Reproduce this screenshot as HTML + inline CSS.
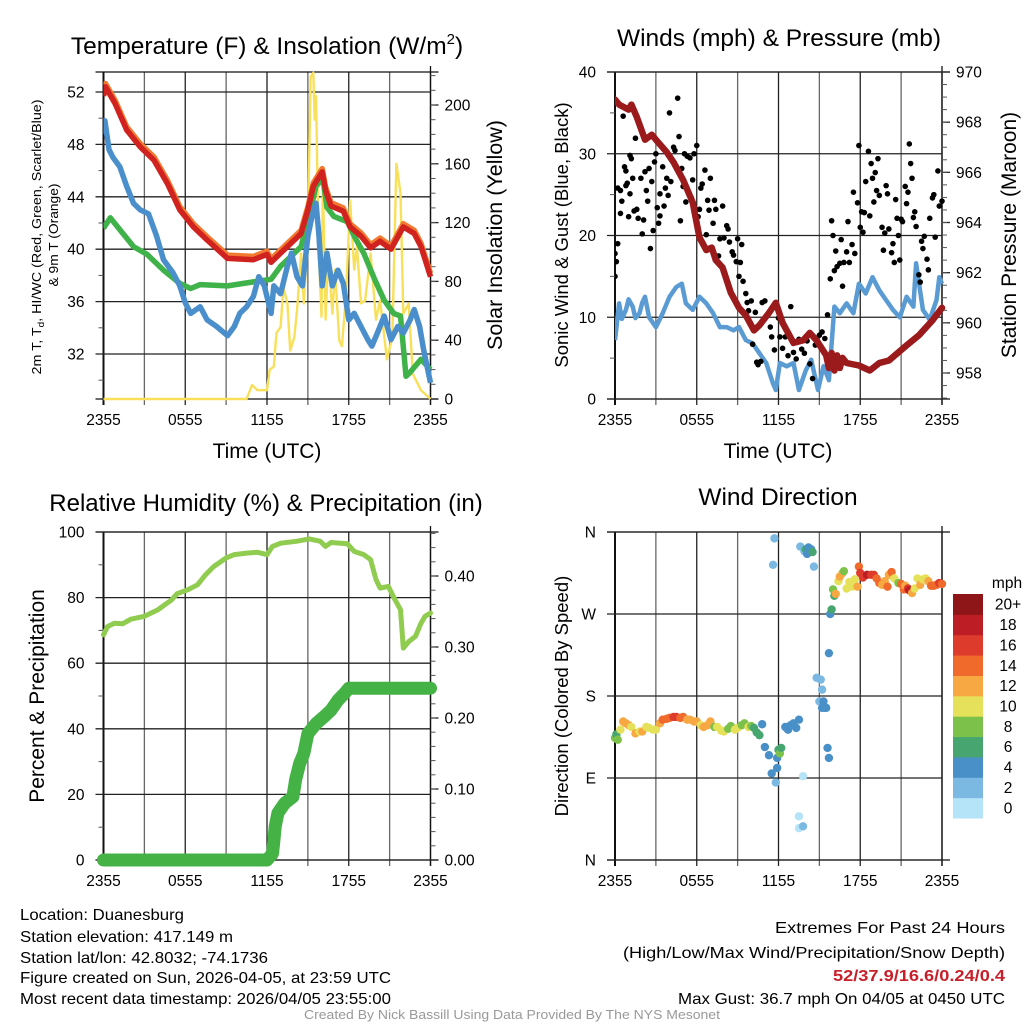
<!DOCTYPE html>
<html><head><meta charset="utf-8"><style>
html,body{margin:0;padding:0;background:#fff;}
svg{display:block;font-family:"Liberation Sans",sans-serif;}
</style></head><body>
<svg id="chart" width="1024" height="1024" viewBox="0 0 1024 1024" xmlns="http://www.w3.org/2000/svg">
<rect width="1024" height="1024" fill="#fff"/>
<g id="g1"></g>
<g id="g2"></g>
<g id="g3"></g>
<g id="g4"></g>
<g id="gt" font-size="16">
<text x="20" y="920" textLength="164" lengthAdjust="spacingAndGlyphs">Location: Duanesburg</text>
<text x="20" y="942" textLength="213" lengthAdjust="spacingAndGlyphs">Station elevation: 417.149 m</text>
<text x="20" y="963" textLength="248" lengthAdjust="spacingAndGlyphs">Station lat/lon: 42.8032; -74.1736</text>
<text x="20" y="983" textLength="371" lengthAdjust="spacingAndGlyphs">Figure created on Sun, 2026-04-05, at 23:59 UTC</text>
<text x="20" y="1004" textLength="371" lengthAdjust="spacingAndGlyphs">Most recent data timestamp: 2026/04/05 23:55:00</text>
<text x="1005" y="933" text-anchor="end" textLength="230" lengthAdjust="spacingAndGlyphs">Extremes For Past 24 Hours</text>
<text x="1005" y="958" text-anchor="end" textLength="382" lengthAdjust="spacingAndGlyphs">(High/Low/Max Wind/Precipitation/Snow Depth)</text>
<text x="1005" y="981" font-weight="bold" fill="#c8202a" text-anchor="end" textLength="172" lengthAdjust="spacingAndGlyphs">52/37.9/16.6/0.24/0.4</text>
<text x="1005" y="1004" text-anchor="end" textLength="327" lengthAdjust="spacingAndGlyphs">Max Gust: 36.7 mph On 04/05 at 0450 UTC</text>
<text x="304" y="1019" font-size="12.5" fill="#999" textLength="416" lengthAdjust="spacingAndGlyphs">Created By Nick Bassill Using Data Provided By The NYS Mesonet</text>
</g>
</svg>
<script>
// ---------- data ----------
const timeLabels = ["2355","0555","1155","1755","2355"];
const redH = [0,0.15,0.86,1.7,2.7,3.7,4.7,5.6,6.6,7.6,9.1,11,12,12.3,13.5,14.5,15,15.4,16.05,16.3,16.7,17.6,18.1,18.9,19.6,20.3,21.1,22,22.8,23.3,24];
const redT = [51.7,52.4,51.1,49.1,47.8,46.8,45,43,41.7,40.7,39.3,39.2,39.6,39,40.2,41.2,43,44.8,45.9,44.5,43.3,42.9,41.7,41,40.1,40.6,40,41.7,41.2,40.2,37.9];
const greenH = [0,0.5,1.2,2.2,3.2,4.4,5.6,6.4,7.1,9.1,11,12.3,13,13.7,14.5,15,15.6,16.1,16.4,16.9,17.9,18.4,19.1,19.9,20.6,21.3,21.8,22.2,22.5,23.3,24];
const greenT = [41.6,42.4,41.5,40.2,39.6,38.4,37.4,37,37.3,37.2,37.5,37.7,38.7,39.4,40.2,42.2,44.8,45.4,43.2,42.5,42.1,41,39.7,37.7,36.1,35.1,34.9,30.3,30.6,31.6,30.8];
const blueH = [0,0.1,0.4,0.7,1.2,1.7,2.2,2.7,3.3,3.9,4.4,5.1,5.6,6,6.4,7.1,7.6,8.3,9.1,9.6,10,10.5,11,11.4,11.8,12.3,12.5,13,13.5,13.8,14.2,14.6,15,15.3,15.6,15.8,16.05,16.4,16.8,17.2,17.6,18,18.4,18.9,19.4,19.7,20.1,20.6,21.1,21.6,22,22.5,22.8,23.2,23.5,24];
const blueT = [48.8,49.8,47.6,47,46.3,44.8,43.5,43,42.7,41,39.2,38.2,37.2,35.9,35.1,35.6,34.6,34.1,33.4,34.1,35.1,35.6,36.4,37.9,37.2,35.1,37.2,36.6,38.7,39.7,37.9,37.2,41,42.5,43.5,41.2,37.2,39.7,37.2,38.4,37.4,34.6,35.1,34.1,33.1,32.6,33.6,34.9,33.1,34.1,33.6,34.6,35.4,34.1,32.3,29.8];
const solarH = [0,10.5,10.9,11.3,12,12.2,12.5,12.7,13,13.2,13.5,13.7,14,14.2,14.5,14.7,15,15.2,15.4,15.5,15.6,15.8,16,16.1,16.3,16.5,16.8,17,17.3,17.5,17.8,18.1,18.4,18.6,18.9,19.2,19.6,20,20.3,20.8,21.2,21.5,21.8,22,22.4,22.7,23.3,24];
const solarW = [0,0,9.5,6,6,20,22,45,49,76,65,33,42,60,99,65,113,219,222,190,206,99,56,149,54,99,58,88,40,36,70,135,88,104,65,67,99,54,67,27,42,160,140,58,65,17,6,0];
const presH = [0,0.3,1,1.2,1.6,2.2,2.7,3,3.8,4.3,5,5.7,6.2,6.7,7.1,7.4,7.9,8.5,9.1,9.6,10.2,10.6,11.3,11.8,12.3,13.1,13.8,14.3,14.8,15.5,15.7,15.9,16.1,16.3,16.5,16.7,17,17.9,18.7,19.4,20.1,21.4,22.3,23.3,24];
const presMb = [968.9,968.7,968.5,968.7,968.2,967.3,967.5,967.3,966.8,966.4,965.7,964.8,963.4,962.9,963,962.5,962.2,961.2,960.6,960.3,959.7,959.9,960.4,960.8,960,959.2,959.3,959.6,959.3,958.7,958.2,958.8,958.1,958.7,958.2,958.6,958.4,958.3,958.1,958.4,958.5,959.1,959.5,960.1,960.6];
const windH = [0,0.3,0.5,0.8,1,1.3,1.5,1.8,2,2.2,2.5,3,3.5,4,4.5,4.9,5.2,5.7,6.2,6.7,7.2,7.7,8.2,8.7,9.1,9.6,10.1,10.6,11.1,11.6,11.8,12.1,12.6,13.1,13.5,14,14.4,14.9,15.3,15.7,16.1,16.5,17,17.5,17.9,18.4,18.9,19.4,19.9,20.4,20.9,21.4,21.9,22.1,22.6,23.1,23.6,23.8,24];
const windMph = [7.2,11.7,9.8,10.9,12.2,11.3,9.9,10.5,11.8,12.5,10,8.8,10.5,12.5,13.7,14.1,11.7,10.9,12.5,11.7,10.5,8.8,8.8,8.4,8.8,7.2,6.8,5.6,4.4,1.9,1.1,4.4,4,4.4,1.1,3.5,4.8,1.1,4,2.3,11.3,10.5,11.7,10.5,14.1,12.9,14.9,13.3,12.1,10.9,10,12.5,11.3,16.6,10.9,9.7,12.1,14.9,14.1];
const gustH = [0,0,0.1,0.2,0.2,0.4,0.4,0.5,0.6,0.7,0.8,0.8,0.9,1,1.1,1.1,1.2,1.3,1.4,1.5,1.6,1.7,1.9,2,2.1,2.2,2.3,2.4,2.5,2.6,2.7,2.8,2.9,3,3.1,3.2,3.3,3.3,3.5,3.6,3.7,3.8,3.9,4,4.1,4.3,4.4,4.6,4.7,4.8,4.9,5,5.1,5.2,5.3,5.5,5.6,5.7,5.8,6,6.1,6.2,6.3,6.4,6.6,6.7,6.8,6.9,7,7.2,7.3,7.4,7.6,7.7,7.9,8,8.2,8.3,8.4,8.6,8.7,8.9,9,9.1,9.2,9.3,9.4,9.6,9.7,9.8,10,10.1,10.3,10.4,10.5,10.7,10.8,11,11.2,11.4,11.5,11.7,11.8,12,12.1,12.3,12.5,12.7,12.9,13.1,13.3,13.5,13.7,13.9,14.1,14.3,14.5,14.7,15,15.2,15.4,15.6,15.8,15.9,16,16.1,16.2,16.3,16.5,16.6,16.7,16.8,17,17.1,17.2,17.4,17.5,17.6,17.8,17.9,18,18.1,18.2,18.3,18.4,18.6,18.7,18.8,18.9,19,19.1,19.2,19.3,19.4,19.6,19.7,19.8,19.9,20,20.1,20.3,20.4,20.5,20.6,20.7,20.8,20.9,21,21.1,21.3,21.4,21.5,21.6,21.7,21.8,21.9,22,22.1,22.3,22.4,22.5,22.6,22.7,22.9,23,23.1,23.3,23.4,23.5,23.7,23.8,24];
const gustMph = [17.8,15,16.8,19,25.8,25.5,22.7,24.2,34.6,28.4,27.9,26.1,26.4,22.3,29.8,25.1,29.4,27,23,31.9,23.2,22.1,27,20.2,21.9,27.8,25.5,24.2,28.2,18.4,26.6,20.6,29,30,23.4,21.5,22.4,25.1,28.4,23.6,25.8,27,24.9,35,26.6,30.8,30.4,36.8,32.1,21.8,28.2,26,30,24.1,29.7,29.5,24.6,26.8,30,31,22.3,23.2,25.8,26.3,28,20.1,24.3,23.1,27,21.5,24.3,23.2,17.5,19.6,23.6,19.7,21.2,20.8,19.2,18,17.6,16.8,19.6,15,16.7,18.9,14.4,12.9,11.8,10.8,12,6.7,10.6,4.5,4.2,4.6,11.8,12,10.3,8.8,7.6,6,11.2,9.9,7.6,6.2,7.6,5.3,11.3,5.7,4.9,7.3,6.1,5.6,7.1,4.3,2.5,6.6,7.8,8.2,7.4,10.3,14.7,21.8,20,15.7,18.1,16.2,16.6,19.5,13.8,16.7,18,21.7,16.7,18.9,25.3,17.8,24,31,21,22.9,20.4,22.8,26.6,30.3,22.4,28.8,27,24.1,27.7,25.5,29.4,24.9,21,18.2,20.3,26.1,25.1,20.8,17.9,19,16.7,24.4,22.1,20,17,22,21.7,26,23.9,25.3,31.2,28.8,27,22.2,22.9,21.1,15.2,14.3,19.3,18.4,19.9,17.1,15.8,22.1,24.6,25,19.8,27.9,23.6,24.2];
const rhH = [0,0.3,0.8,1.4,2,3,4,5,5.4,6.2,6.9,7.5,8.1,9,9.6,10.6,11.3,12,12.4,13,14.2,15.1,15.9,16.3,16.7,17.9,18.4,19.1,19.6,20,20.3,20.9,21.4,21.8,22,22.4,22.9,23.3,23.6,24];
const rhPct = [68.7,71.2,72.2,72,73.4,74.3,76.3,79.3,81.2,82.4,83.9,87,89.5,92.1,93.1,93.6,93.8,93.1,95.6,96.6,97.2,97.9,97.2,95.6,96.8,96.4,94.1,93.1,91.6,85.5,82.9,83.4,79.3,76.3,64.6,66.6,68.2,72.2,74.3,75.3];
const pcpH = [0,12,12.4,12.5,12.6,12.8,13.3,13.9,14.1,14.4,14.7,15,15.6,16.2,16.7,17.2,17.7,18,24];
const pcpIn = [0,0,0.009,0.026,0.047,0.066,0.08,0.089,0.113,0.136,0.15,0.178,0.192,0.202,0.211,0.225,0.235,0.242,0.242];
const dirH = [
 0,0.1,0.2,0.4,0.6,0.8,1,1.2,1.5,1.8,
 2,2.3,2.5,2.8,3,3.3,3.5,3.8,4,4.3,
 4.5,4.8,5,5.3,5.5,5.8,6,6.3,6.5,6.8,
 7,7.3,7.5,7.8,8,8.3,8.5,8.8,9,9.3,
 9.5,9.8,10,10.2,10.4,10.6,10.8,11,11.3,11.5,
 11.6,11.7,11.8,11.9,11.9,12,12.1,12.2,12.5,12.7,
 12.9,13.1,13.3,13.5,13.5,13.5,13.6,13.8,13.8,13.9,
 14,14.1,14.2,14.3,14.4,14.5,14.6,14.8,15,15.1,
 15.2,15.2,15.3,15.4,15.5,15.6,15.7,15.7,15.8,15.9,
 16,16.1,16.2,16.4,16.5,16.7,16.8,17,17.2,17.4,
 17.6,17.8,17.9,18,18.2,18.5,18.8,19,19.2,19.4,
 19.6,19.8,20,20.1,20.3,20.5,20.8,21,21.2,21.3,
 21.5,21.6,21.8,22,22.2,22.4,22.6,22.8,23,23.2,
 23.4,23.6,23.8,24];
const dirDeg = [
 134,138,132,143,152,150,148,146,139,141,
 141,146,145,143,143,150,154,155,156,157,
 157,156,157,154,154,152,152,148,146,148,
 152,146,146,142,141,144,147,143,145,148,
 150,146,147,145,140,137,149,124,115,95,
 324,353,85,101,112,121,117,123,146,143,
 148,150,145,154,48,35,344,92,37,339,
 341,336,343,338,341,338,322,200,174,198,
 187,167,174,167,167,123,112,227,270,275,
 297,290,292,306,311,315,317,298,305,300,
 308,300,322,315,310,313,313,313,309,304,
 302,306,300,313,316,309,304,303,297,301,
 298,296,293,298,309,302,308,309,306,301,
 301,302,304,303];
const dirSpd = [
 8,6,7,10,12,12,12,10,12,10,
 11,10,10,9,10,12,14,14,14,15,
 15,14,14,12,12,12,12,10,11,12,
 12,8,9,10,10,8,8,9,9,8,
 8,9,8,6,6,6,4,4,4,3,
 2,2,1,3,4,6,7,6,4,4,
 4,4,4,3,0,0,1,0,1,2,
 6,4,4,3,4,5,2,1,1,1,
 2,3,4,4,4,3,3,3,3,6,
 7,6,12,10,11,12,7,9,10,10,
 10,12,14,16,15,17,16,16,14,13,
 12,12,13,12,13,10,7,14,13,12,
 15,17,12,9,10,11,10,10,12,13,
 14,13,15,14];
const speedBins = ["0","2","4","6","8","10","12","14","16","18","20+"];
const speedColors = ["#b5e3f8","#7bb9e2","#4a90c8","#47a66f","#7cc24a","#e6e15a","#f7a843","#f06a2c","#dd3b2c","#bd1d24","#8e1518"];

// ---------- helpers ----------
const NS="http://www.w3.org/2000/svg";
const TF=15.5;
function mk(parent, tag, attrs, txt){const e=document.createElementNS(NS,tag);for(const k in attrs)e.setAttribute(k,attrs[k]);if(txt!==undefined)e.textContent=txt;parent.appendChild(e);return e;}
function lin(d0,d1,r0,r1){return v=>r0+(v-d0)*(r1-r0)/(d1-d0);}
function pathD(xs,ys,X,Y){return xs.map((h,i)=>(i?"L":"M")+X(h).toFixed(1)+","+Y(ys[i]).toFixed(1)).join("");}

function frame(g, L, R, T, B){
  for(let h=0;h<=24;h+=3){
    const x=L+h*(R-L)/24;
    const ln=mk(g,"line",{x1:x,y1:T,x2:x,y2:B+6,stroke:(h%6==0)?"#222":"#666","stroke-width":1.3});
    
    
  }
  timeLabels.forEach((t,i)=>{
    const tx=mk(g,"text",{x:L+i*6*(R-L)/24,y:B+26,"font-size":TF,"text-anchor":"middle"},t);
    
    
  });
  mk(g,"line",{x1:L-8,y1:T,x2:R+8,y2:T,stroke:"#111","stroke-width":1.3});
  mk(g,"line",{x1:L,y1:T,x2:L,y2:B+6,stroke:"#111","stroke-width":2});
  mk(g,"line",{x1:R,y1:T-6,x2:R,y2:B+6,stroke:"#111","stroke-width":1.3});
  mk(g,"line",{x1:L-8,y1:B,x2:R+8,y2:B,stroke:"#111","stroke-width":1.3});
}
function leftAxis(g,L,R,Y,vals,labels,minors){
  vals.forEach((v,i)=>{
    const y=Y(v);
    const ln=mk(g,"line",{x1:L-8,y1:y,x2:R,y2:y,stroke:"#222","stroke-width":1.3});
    
    
    const t=mk(g,"text",{x:L-19,y:y+5.5,"font-size":TF,"text-anchor":"end"},labels[i]);
    
    
  });
  (minors||[]).forEach(v=>{mk(g,"line",{x1:L-5,y1:Y(v),x2:L,y2:Y(v),stroke:"#555","stroke-width":1});});
}
function rightAxis(g,R,Y,vals,labels,minors){
  vals.forEach((v,i)=>{
    mk(g,"line",{x1:R,y1:Y(v),x2:R+8,y2:Y(v),stroke:"#222","stroke-width":1.3});
    const t=mk(g,"text",{x:R+14,y:Y(v)+5.5,"font-size":TF},labels[i]);
    
    
  });
  minors.forEach(v=>{mk(g,"line",{x1:R,y1:Y(v),x2:R+5,y2:Y(v),stroke:"#555","stroke-width":1});});
}
function rng(a,b,s){const r=[];for(let v=a;v<=b+1e-9;v+=s)r.push(+v.toFixed(4));return r;}
function vtitle(g,x,y,size,txt,name,len){const a={x:x,y:y,"font-size":size,"text-anchor":"middle",transform:`rotate(-90 ${x} ${y})`};if(len){a.textLength=len;a.lengthAdjust="spacingAndGlyphs";}const t=mk(g,"text",a,txt);return t;}

// ---------- panel 1 ----------
(function(){
  const g=document.getElementById("g1");const L=103.5,R=430.5,T=72,B=399;
  const X=lin(0,24,L,R), Y=lin(32,52,354,92), Y2=lin(0,200,399,105);
  frame(g,L,R,T,B);
  leftAxis(g,L,R,Y,[32,36,40,44,48,52],["32","36","40","44","48","52"],[30,34,38,42,46,50]);
  rightAxis(g,R,Y2,[0,40,80,120,160,200],["0","40","80","120","160","200"],rng(10,220,10));
  const clip=mk(g,"clipPath",{id:"c1"});mk(clip,"rect",{x:L,y:T-2,width:R-L+4,height:B-T+4});
  const p=mk(g,"g",{"clip-path":"url(#c1)"});
  let e;
  e=mk(p,"path",{d:pathD(solarH,solarW,X,Y2),fill:"none",stroke:"#f8e05a","stroke-width":2.4,"stroke-linejoin":"round"});
  
  e=mk(p,"path",{d:pathD(greenH,greenT,X,Y),fill:"none",stroke:"#3fb24a","stroke-width":5.5,"stroke-linejoin":"round"});
  
  e=mk(p,"path",{d:pathD(blueH,blueT,X,Y),fill:"none",stroke:"#4a8fcb","stroke-width":5.5,"stroke-linejoin":"round"});
  
  e=mk(p,"path",{d:pathD(redH,redT.map(v=>v+0.25),X,Y),fill:"none",stroke:"#f27a30","stroke-width":5.5,"stroke-linejoin":"round"});
  
  e=mk(p,"path",{d:pathD(redH,redT,X,Y),fill:"none",stroke:"#d0221f","stroke-width":5.5,"stroke-linejoin":"round"});
  
  const t=mk(g,"text",{x:267,y:54,"font-size":24.5,"text-anchor":"middle"});t.innerHTML='Temperature (F) &amp; Insolation (W/m<tspan font-size="15" dy="-10">2</tspan><tspan dy="10">)</tspan>';
  
  const xt=mk(g,"text",{x:267,y:458,"font-size":21,"text-anchor":"middle"},"Time (UTC)");
  
  const yt=mk(g,"text",{x:41,y:237,"font-size":13,"text-anchor":"middle",transform:"rotate(-90 41 237)",textLength:275,lengthAdjust:"spacingAndGlyphs"});
  yt.innerHTML='2m T, T<tspan font-size="9" dy="3">d</tspan><tspan dy="-3">, HI/WC (Red, Green, Scarlet/Blue)</tspan>';
  
  vtitle(g,58,235,13,"& 9m T (Orange)","y-axis-title-line2",103);
  vtitle(g,502,235,21.5,"Solar Insolation (Yellow)","right-axis-title");
})();

// ---------- panel 2 ----------
(function(){
  const g=document.getElementById("g2");const L=615,R=942,T=72,B=399;
  const X=lin(0,24,L,R), Y=lin(0,40,B,T), Y2=lin(958,970,373,72);
  frame(g,L,R,T,B);
  leftAxis(g,L,R,Y,[0,10,20,30,40],["0","10","20","30","40"],[5,15,25,35]);
  rightAxis(g,R,Y2,[958,960,962,964,966,968,970],["958","960","962","964","966","968","970"],rng(957,969.5,0.5));
  const clip=mk(g,"clipPath",{id:"c2"});mk(clip,"rect",{x:L,y:T-4,width:R-L+4,height:B-T+6});
  const p=mk(g,"g",{"clip-path":"url(#c2)"});
  let e=mk(p,"path",{d:pathD(windH,windMph,X,Y),fill:"none",stroke:"#5b9bd3","stroke-width":4.5,"stroke-linejoin":"round"});
  
  gustH.forEach((h,i)=>{
    const c=mk(p,"circle",{cx:X(h),cy:Y(gustMph[i]),r:2.8,fill:"#000"});
    
    
  });
  e=mk(p,"path",{d:pathD(presH,presMb,X,Y2),fill:"none",stroke:"#9b1a1c","stroke-width":6.5,"stroke-linejoin":"round","stroke-linecap":"round"});
  
  const t=mk(g,"text",{x:779,y:46,"font-size":24.5,"text-anchor":"middle"},"Winds (mph) & Pressure (mb)");
  
  const xt=mk(g,"text",{x:778,y:458,"font-size":21,"text-anchor":"middle"},"Time (UTC)");
  
  vtitle(g,568,235,18.5,"Sonic Wind & Gust (Blue, Black)","y-axis-title");
  vtitle(g,1016,235,21,"Station Pressure (Maroon)","right-axis-title");
})();

// ---------- panel 3 ----------
(function(){
  const g=document.getElementById("g3");const L=103.5,R=430.5,T=532,B=860;
  const X=lin(0,24,L,R), Y=lin(0,100,B,T), Y2=lin(0,0.4,B,576);
  frame(g,L,R,T,B);
  leftAxis(g,L,R,Y,[0,20,40,60,80,100],["0","20","40","60","80","100"],[10,30,50,70,90]);
  rightAxis(g,R,Y2,[0,0.1,0.2,0.3,0.4],["0.00","0.10","0.20","0.30","0.40"],rng(0.02,0.46,0.02));
  let e=mk(g,"path",{d:pathD(rhH,rhPct,X,Y),fill:"none",stroke:"#90cc4f","stroke-width":5,"stroke-linejoin":"round","stroke-linecap":"round"});
  
  e=mk(g,"path",{d:pathD(pcpH,pcpIn,X,Y2),fill:"none",stroke:"#45b246","stroke-width":13,"stroke-linejoin":"round","stroke-linecap":"round"});
  
  const t=mk(g,"text",{x:266,y:511,"font-size":24,"text-anchor":"middle"},"Relative Humidity (%) & Precipitation (in)");
  
  vtitle(g,44,696,21,"Percent & Precipitation","y-axis-title");
})();

// ---------- panel 4 ----------
(function(){
  const g=document.getElementById("g4");const L=615,R=942,T=532,B=860;
  const X=lin(0,24,L,R), Y=lin(0,360,B,T);
  frame(g,L,R,T,B);
  leftAxis(g,L,R,Y,[0,90,180,270,360],["N","E","S","W","N"],[]);
  dirH.forEach((h,i)=>{
    const bin=Math.min(10,Math.round(dirSpd[i]/2));
    const c=mk(g,"circle",{cx:X(h),cy:Y(dirDeg[i]),r:4.2,fill:speedColors[bin]});
    
    
  });
  const bh=(818-594)/11;
  speedBins.forEach((lab,i)=>{
    const y=818-(i+1)*bh;
    const r=mk(g,"rect",{x:953,y:y,width:30,height:bh+0.5,fill:speedColors[i]});
    
    
    const t=mk(g,"text",{x:1008,y:y+bh/2+5.5,"font-size":TF,"text-anchor":"middle"},lab);
    
    
  });
  const m=mk(g,"text",{x:1007,y:588,"font-size":TF,"text-anchor":"middle"},"mph");
  
  const t=mk(g,"text",{x:778,y:505,"font-size":24.5,"text-anchor":"middle"},"Wind Direction");
  
  vtitle(g,568,696,18.5,"Direction (Colored By Speed)","y-axis-title");
})();
</script>
</body></html>
